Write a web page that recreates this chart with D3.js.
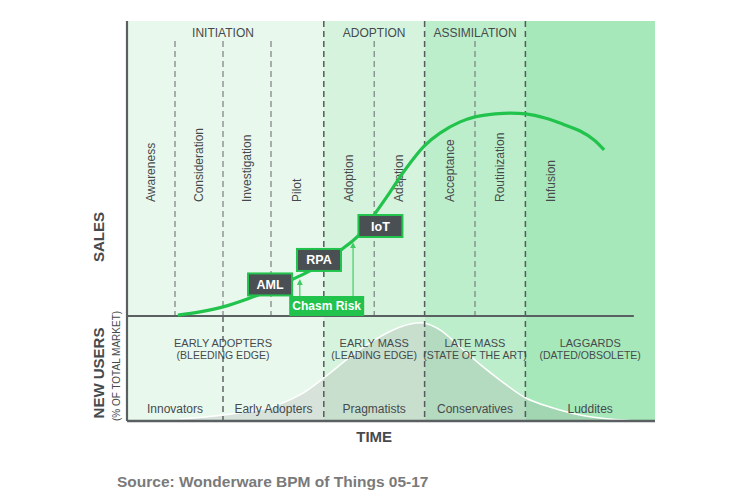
<!DOCTYPE html>
<html><head><meta charset="utf-8">
<script src="https://cdn.jsdelivr.net/npm/d3@7"></script>
<style>
html,body{margin:0;padding:0;background:#fff;}
svg text{font-family:"Liberation Sans",Arial,sans-serif;}
</style></head>
<body><svg id="c" width="750" height="500"></svg>
<script>
// ---- data ----
const phases = [
  {name:"INITIATION",   start:0,   end:4.1, color:"#e9f8ec", label:"EARLY ADOPTERS", sub:"(BLEEDING EDGE)"},
  {name:"ADOPTION",     start:4.1, end:6.2, color:"#d6f4dd", label:"EARLY MASS", sub:"(LEADING EDGE)"},
  {name:"ASSIMILATION", start:6.2, end:8.3, color:"#bdeecb", label:"LATE MASS", sub:"(STATE OF THE ART)"},
  {name:"",             start:8.3, end:11,  color:"#a6e8b9", label:"LAGGARDS", sub:"(DATED/OBSOLETE)"}
];
const stages = [
  {name:"Awareness", start:0, end:1},
  {name:"Consideration", start:1, end:2},
  {name:"Investigation", start:2, end:3},
  {name:"Pilot", start:3, end:4.1},
  {name:"Adoption", start:4.1, end:5.15},
  {name:"Adaption", start:5.15, end:6.2},
  {name:"Acceptance", start:6.2, end:7.25},
  {name:"Routinization", start:7.25, end:8.3},
  {name:"Infusion", start:8.3, end:9.35}
];
const minorLines = [1, 2, 3, 5.15, 7.25];
const majorLines = [4.1, 6.2, 8.3];
const lowerMinorLines = [2];
const adopters = [
  {name:"Innovators", start:0, end:2},
  {name:"Early Adopters", start:2, end:4.1},
  {name:"Pragmatists", start:4.1, end:6.2},
  {name:"Conservatives", start:6.2, end:8.3},
  {name:"Luddites", start:8.3, end:11}
];
const salesTime  = [1.06,1.52,2,2.56,3,3.46,3.81,4.1,4.46,4.81,5.13,5.48,5.79,6.19,6.52,6.94,7.25,7.67,7.98,8.31,8.71,9.02,9.44,9.73,9.94];
const salesValue = [0.3,1.4,3.1,6.1,8.8,12.5,15.3,18.0,22.4,27.1,33.9,42.0,49.5,57.6,62.0,65.8,67.5,68.5,68.8,68.5,67.1,65.4,62.7,59.7,56.3];
const usersTime  = [1.10,2,3,3.6,4.1,4.65,5.15,5.69,5.96,6.19,6.52,6.94,7.25,7.77,8.31,8.81,9.44,10.06,10.48];
const usersValue = [1.9,5.7,13.3,24.8,41,61,77,89.5,92.9,93.3,86.7,70.5,58,39,21.9,13.3,5.7,1.9,0.5];
const products = [
  {name:"AML", t:2.98, v:10.7},
  {name:"RPA", t:4.0, v:19},
  {name:"IoT", t:5.28, v:30.5}
];
const chasm = {name:"Chasm Risk", t:4.16};
const chasmArrows = [{t:3.6, v:11.5},{t:4.71, v:24}];
const sourceText = "Source: Wonderware BPM of Things 05-17";

// ---- layout ----
const L = 127, R = 655, T = 21, M = 316, B = 421;
const x = d3.scaleLinear().domain([0, 11]).range([L, R]);
const yS = d3.scaleLinear().domain([0, 100]).range([M, M - 295]);
const yU = d3.scaleLinear().domain([0, 100]).range([B, B - 105]);
const svg = d3.select("#c");
const txt = "#464a4d";

// backgrounds
svg.selectAll("rect.bg").data(phases).enter().append("rect")
  .attr("x", d => x(d.start)).attr("width", d => x(d.end) - x(d.start))
  .attr("y", T).attr("height", B - T).attr("fill", d => d.color);

// bell area
const usersPts = usersTime.map((t,i)=>[t, usersValue[i]]);
svg.append("path").datum(usersPts)
  .attr("d", d3.area().x(d=>x(d[0])).y0(B).y1(d=>yU(d[1])).curve(d3.curveCatmullRom))
  .attr("fill", "rgba(150,150,156,0.22)");
svg.append("path").datum(usersPts)
  .attr("d", d3.line().x(d=>x(d[0])).y(d=>yU(d[1])).curve(d3.curveCatmullRom))
  .attr("fill", "none").attr("stroke", "#fff").attr("stroke-width", 1.5);

// minor dashed lines (upper)
svg.selectAll("line.minor").data(minorLines).enter().append("line")
  .attr("x1", d=>x(d)).attr("x2", d=>x(d)).attr("y1", T + 20).attr("y2", M)
  .attr("stroke", "#7a7f80").attr("stroke-width", 1.2).attr("stroke-dasharray", "6,4");
svg.selectAll("line.lminor").data(lowerMinorLines).enter().append("line")
  .attr("x1", d=>x(d)).attr("x2", d=>x(d)).attr("y1", M).attr("y2", B)
  .attr("stroke", "#555a5c").attr("stroke-width", 1.4).attr("stroke-dasharray", "6,4");
// major dashed
svg.selectAll("line.major").data(majorLines).enter().append("line")
  .attr("x1", d=>x(d)).attr("x2", d=>x(d)).attr("y1", T).attr("y2", B)
  .attr("stroke", "#555a5c").attr("stroke-width", 1.5).attr("stroke-dasharray", "6,4");

// axes lines
svg.append("line").attr("x1", L).attr("x2", x(10.56)).attr("y1", M).attr("y2", M)
  .attr("stroke", "#5a5f61").attr("stroke-width", 1.8);
svg.append("line").attr("x1", L).attr("x2", R).attr("y1", B).attr("y2", B)
  .attr("stroke", "#5a5f61").attr("stroke-width", 2.5);
svg.append("line").attr("x1", L).attr("x2", L).attr("y1", T).attr("y2", B)
  .attr("stroke", "#5a5f61").attr("stroke-width", 2.2);

// phase labels
svg.selectAll("text.phase").data(phases.filter(d=>d.name)).enter().append("text")
  .attr("x", d => d.name === "INITIATION" ? x(2.0) : x((d.start + d.end)/2)).attr("y", 37)
  .attr("text-anchor", "middle").attr("font-size", 12).attr("fill", txt)
  .text(d => d.name);

// stage labels
svg.selectAll("text.stage").data(stages).enter().append("text")
  .attr("transform", d => `translate(${x((d.start+d.end)/2) + 4},202) rotate(-90)`)
  .attr("text-anchor", "start").attr("font-size", 12).attr("fill", txt)
  .text(d => d.name);

// sales curve
const salesPts = salesTime.map((t,i)=>[t, salesValue[i]]);
svg.append("path").datum(salesPts)
  .attr("d", d3.line().x(d=>x(d[0])).y(d=>yS(d[1])).curve(d3.curveCatmullRom))
  .attr("fill", "none").attr("stroke", "#22c34c").attr("stroke-width", 3.2).attr("stroke-linecap","butt");

// chasm arrows
const green = "#22c34c";
svg.append("defs").append("marker").attr("id","ah").attr("viewBox","0 0 6 6")
  .attr("refX",3).attr("refY",3).attr("markerWidth",5).attr("markerHeight",5).attr("orient","auto")
  .append("path").attr("d","M0,0 L6,3 L0,6 Z").attr("fill","#3fcd63");
svg.selectAll("line.arrow").data(chasmArrows).enter().append("line")
  .attr("x1", d=>x(d.t)).attr("x2", d=>x(d.t)).attr("y1", M - 20).attr("y2", d=>yS(d.v))
  .attr("stroke", "#3fcd63").attr("stroke-width", 1.2).attr("marker-end","url(#ah)");

// chasm box
const cw = 75, ch = 20;
svg.append("rect").attr("x", x(chasm.t) - cw/2).attr("y", M - ch).attr("width", cw).attr("height", ch)
  .attr("fill", green);
svg.append("text").attr("x", x(chasm.t)).attr("y", M - 6).attr("text-anchor","middle")
  .attr("font-size", 12).attr("font-weight","bold").attr("fill","#fff").text(chasm.name);

// product boxes
const bw = 44, bh = 22;
const pg = svg.selectAll("g.prod").data(products).enter().append("g")
  .attr("transform", d => `translate(${x(d.t)},${yS(d.v)})`);
pg.append("rect").attr("x", -bw/2).attr("y", -bh/2).attr("width", bw).attr("height", bh)
  .attr("fill", "#4a4f54").attr("stroke", green).attr("stroke-width", 2);
pg.append("text").attr("y", 4.5).attr("text-anchor","middle").attr("font-size", 12.5)
  .attr("font-weight","bold").attr("fill","#fff").text(d=>d.name);

// lower phase labels
const lp = svg.selectAll("g.lp").data(phases).enter().append("g")
  .attr("transform", d => `translate(${d.name === "INITIATION" ? x(2.0) : x((d.start+d.end)/2)},0)`);
lp.append("text").attr("y", 347).attr("text-anchor","middle").attr("font-size", 11).attr("fill", txt).text(d=>d.label);
lp.append("text").attr("y", 358.5).attr("text-anchor","middle").attr("font-size", 10.5).attr("fill", txt).text(d=>d.sub);

// adopters labels
svg.selectAll("text.adopt").data(adopters).enter().append("text")
  .attr("x", d => x((d.start+d.end)/2)).attr("y", 413)
  .attr("text-anchor","middle").attr("font-size", 12).attr("fill", txt).text(d=>d.name);

// axis titles
svg.append("text").attr("transform","translate(104,237) rotate(-90)").attr("text-anchor","middle")
  .attr("font-size", 15).attr("font-weight","bold").attr("fill", txt).text("SALES");
svg.append("text").attr("transform","translate(104,373) rotate(-90)").attr("text-anchor","middle")
  .attr("font-size", 15).attr("font-weight","bold").attr("fill", txt).text("NEW USERS");
svg.append("text").attr("transform","translate(120,366) rotate(-90)").attr("text-anchor","middle")
  .attr("font-size", 10).attr("fill", txt).text("(% OF TOTAL MARKET)");
svg.append("text").attr("x", x(5.15)).attr("y", 442).attr("text-anchor","middle")
  .attr("font-size", 15).attr("font-weight","bold").attr("fill", txt).text("TIME");

// source
svg.append("text").attr("x", 117).attr("y", 487).attr("font-family","Lato, sans-serif")
  .attr("font-size", 15.5).attr("font-weight","bold").attr("fill","#7a7a7a").text(sourceText);
</script></body></html>
